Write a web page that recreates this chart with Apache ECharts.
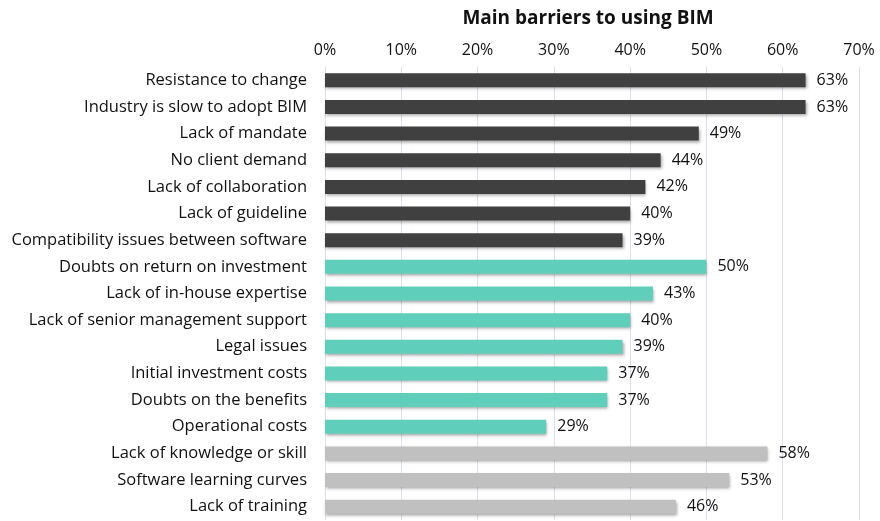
<!DOCTYPE html>
<html>
<head>
<meta charset="utf-8">
<script src="https://cdn.jsdelivr.net/npm/echarts@6/dist/echarts.min.js"></script>
<style>
  html, body { margin: 0; padding: 0; background: #ffffff; }
  #chart { width: 880px; height: 521px; }
</style>
</head>
<body>
<div id="chart"></div>
<script>
const categories = [
  'Resistance to change',
  'Industry is slow to adopt BIM',
  'Lack of mandate',
  'No client demand',
  'Lack of collaboration',
  'Lack of guideline',
  'Compatibility issues between software',
  'Doubts on return on investment',
  'Lack of in-house expertise',
  'Lack of senior management support',
  'Legal issues',
  'Initial investment costs',
  'Doubts on the benefits',
  'Operational costs',
  'Lack of knowledge or skill',
  'Software learning curves',
  'Lack of training'
];
const values = [63, 63, 49, 44, 42, 40, 39, 50, 43, 40, 39, 37, 37, 29, 58, 53, 46];
// group index per category: 0 = dark, 1 = teal, 2 = grey
const groups = [0, 0, 0, 0, 0, 0, 0, 1, 1, 1, 1, 1, 1, 1, 2, 2, 2];
const groupColors = ['#404040', '#5fcfbb', '#c0c0c0'];
const xTicks = [0, 10, 20, 30, 40, 50, 60, 70];

const FONT = 'Open Sans';
const chart = echarts.init(document.getElementById('chart'));

chart.setOption({
  animation: false,
  title: {
    text: 'Main barriers to using BIM',
    left: 583,
    textAlign: 'center',
    top: 4,
    textStyle: { fontFamily: FONT, fontSize: 19, fontWeight: 'bold', color: '#111' }
  },
  grid: { left: 325, right: 21, top: 67, bottom: 1, containLabel: false },
  xAxis: {
    type: 'value',
    position: 'top',
    min: xTicks[0],
    max: xTicks[xTicks.length - 1],
    interval: 10,
    axisLine: { show: false },
    axisTick: { show: false },
    axisLabel: {
      formatter: v => v + '%',
      fontFamily: FONT, fontSize: 16, color: '#111', margin: 9
    },
    splitLine: { show: true, lineStyle: { color: '#d9e0ee', width: 1 } }
  },
  yAxis: {
    type: 'category',
    inverse: true,
    data: categories,
    axisLine: { show: false },
    axisTick: { show: false },
    axisLabel: { fontFamily: FONT, fontSize: 16.5, color: '#111', margin: 18 }
  },
  series: [{
    type: 'bar',
    barWidth: 14,
    data: values.map((v, i) => ({
      value: v,
      itemStyle: { color: groupColors[groups[i]] }
    })),
    itemStyle: {
      shadowColor: 'rgba(0,0,0,0.35)',
      shadowBlur: 3,
      shadowOffsetX: 1,
      shadowOffsetY: 2
    },
    label: {
      show: true,
      position: 'right',
      distance: 11,
      formatter: p => p.value + '%',
      fontFamily: FONT, fontSize: 16, color: '#111'
    }
  }]
});
</script>
</body>
</html>
